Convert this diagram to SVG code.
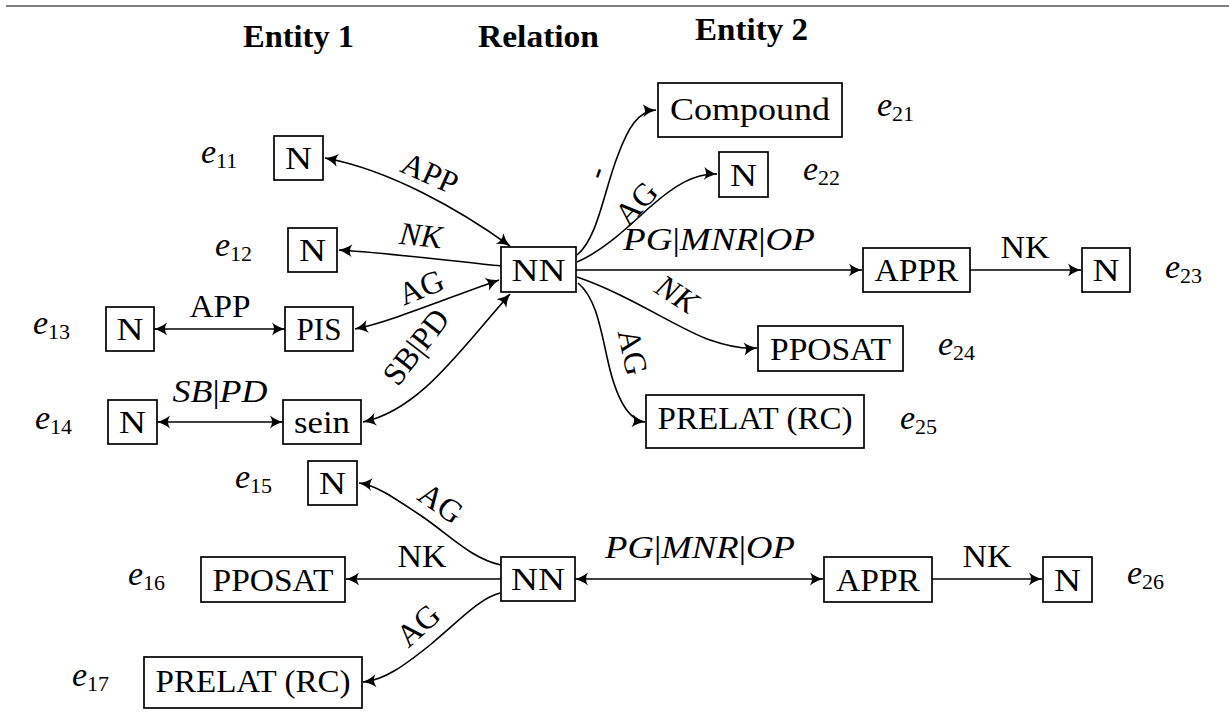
<svg xmlns="http://www.w3.org/2000/svg" width="1229" height="715" viewBox="0 0 1229 715">
<style>
.box{fill:#fff;stroke:#000;stroke-width:1.7}
.nt{font-family:"Liberation Serif",serif;font-size:32px;text-anchor:middle;fill:#000}
.lab{font-family:"Liberation Serif",serif;font-size:32px;text-anchor:middle;fill:#000}
.it{font-style:italic}
.hdr{font-family:"Liberation Serif",serif;font-size:31px;font-weight:bold;fill:#000}
.el{font-family:"Liberation Serif",serif;font-size:34px;font-style:italic;fill:#000}
.sub{font-size:22px;font-style:normal}
.edge{fill:none;stroke:#000;stroke-width:1.6}
.a1{marker-end:url(#ah)}
.a2{marker-start:url(#ah);marker-end:url(#ah)}
</style>
<defs>
<marker id="ah" markerUnits="userSpaceOnUse" markerWidth="15" markerHeight="14" viewBox="0 0 15 14" refX="13.5" refY="7" orient="auto-start-reverse">
<path d="M0.5,0.5 Q6.5,5.3 14,7 Q6.5,8.7 0.5,13.5 Q4.5,7 0.5,0.5 Z" fill="#000"/>
</marker>
</defs>
<rect width="1229" height="715" fill="#fff"/>
<line x1="6" y1="6" x2="1229" y2="6" stroke="#555" stroke-width="1.6"/>
<g id="headers">
<text class="hdr" x="243" y="47" textLength="111" lengthAdjust="spacingAndGlyphs">Entity 1</text>
<text class="hdr" x="478" y="47" textLength="121" lengthAdjust="spacingAndGlyphs">Relation</text>
<text class="hdr" x="695" y="40" textLength="113" lengthAdjust="spacingAndGlyphs">Entity 2</text>
</g>
<g id="connectors">
<path class="edge a2" d="M325,158 C390,170 460,210 510,246"/>
<path class="edge a1" d="M501,266 C460,262 400,254 339,250"/>
<path class="edge a2" d="M355,329 C390,322 450,297 499,280"/>
<path class="edge a2" d="M363,422 C420,410 460,350 510,294"/>
<path class="edge a2" d="M154,329 L285,329"/>
<path class="edge a2" d="M157,422 L283,422"/>
<path class="edge a1" d="M577,255 C598,238 604,190 618,155 C628,128 638,111 656,110"/>
<path class="edge a1" d="M577,262 C605,250 630,225 650,207 C675,185 695,173 717,174"/>
<path class="edge a1" d="M576,270 L862,270"/>
<path class="edge a1" d="M970,270 L1081,270"/>
<path class="edge a1" d="M577,277 C630,295 680,330 710,340 C730,347 745,349 757,348"/>
<path class="edge a1" d="M578,283 C595,297 600,325 607,357 C614,390 625,420 645,422"/>
<path class="edge a1" d="M501,565 C470,558 450,535 420,515 S375,485 359,483"/>
<path class="edge a1" d="M501,579 L346,579"/>
<path class="edge a1" d="M500,593 C480,598 460,620 430,645 C405,665 385,680 363,682"/>
<path class="edge a2" d="M575,579 L823,579"/>
<path class="edge a1" d="M932,579 L1042,579"/>
</g>
<g id="edge-labels">
<text class="lab" font-size="33" transform="translate(430,173) rotate(24)" y="11">APP</text>
<text class="lab it" font-size="33" transform="translate(421,235) rotate(6)" y="11">NK</text>
<text class="lab" font-size="33" transform="translate(421,287) rotate(-22)" y="11">AG</text>
<text class="lab" font-size="31" transform="translate(416,347) rotate(-52)" y="10.5">SB|PD</text>
<text class="lab it" x="220" y="402" textLength="95" lengthAdjust="spacingAndGlyphs">SB<tspan font-style="normal">|</tspan>PD</text>
<text class="lab" x="220" y="317" textLength="61" lengthAdjust="spacingAndGlyphs">APP</text>
<text class="lab" transform="translate(597,173) rotate(-70)" y="9" font-size="40">-</text>
<text class="lab" font-size="33" transform="translate(636,203) rotate(-47)" y="11">AG</text>
<text class="lab it" x="719" y="250" textLength="192" lengthAdjust="spacingAndGlyphs">PG<tspan font-style="normal">|</tspan>MNR<tspan font-style="normal">|</tspan>OP</text>
<text class="lab" x="1025" y="258" textLength="49" lengthAdjust="spacingAndGlyphs">NK</text>
<text class="lab it" font-size="33" transform="translate(677,294) rotate(33)" y="11">NK</text>
<text class="lab" font-size="33" transform="translate(633,352) rotate(78)" y="11">AG</text>
<text class="lab" font-size="33" transform="translate(441,503) rotate(35)" y="11">AG</text>
<text class="lab" x="422" y="567" textLength="49" lengthAdjust="spacingAndGlyphs">NK</text>
<text class="lab" font-size="33" transform="translate(418,625) rotate(-42)" y="11">AG</text>
<text class="lab it" x="700" y="558" textLength="190" lengthAdjust="spacingAndGlyphs">PG<tspan font-style="normal">|</tspan>MNR<tspan font-style="normal">|</tspan>OP</text>
<text class="lab" x="987" y="567" textLength="49" lengthAdjust="spacingAndGlyphs">NK</text>
</g>
<g id="e11"><rect class="box" x="274" y="136" width="49" height="44"/><text class="nt" x="298.5" y="169" textLength="27" lengthAdjust="spacingAndGlyphs">N</text><text class="el" x="201" y="163">e<tspan class="sub" dy="5">11</tspan></text></g>
<g id="e12"><rect class="box" x="288" y="228" width="49" height="44"/><text class="nt" x="312.5" y="261" textLength="27" lengthAdjust="spacingAndGlyphs">N</text><text class="el" x="215" y="256">e<tspan class="sub" dy="5">12</tspan></text></g>
<g id="e13"><rect class="box" x="106" y="307" width="48" height="44"/><text class="nt" x="130" y="340" textLength="27" lengthAdjust="spacingAndGlyphs">N</text><text class="el" x="33" y="334">e<tspan class="sub" dy="5">13</tspan></text></g>
<g id="pis"><rect class="box" x="285" y="307" width="68" height="44"/><text class="nt" x="319" y="340" textLength="45" lengthAdjust="spacingAndGlyphs">PIS</text></g>
<g id="e14"><rect class="box" x="108" y="400" width="49" height="44"/><text class="nt" x="132.5" y="433" textLength="27" lengthAdjust="spacingAndGlyphs">N</text><text class="el" x="35" y="429">e<tspan class="sub" dy="5">14</tspan></text></g>
<g id="sein"><rect class="box" x="283" y="400" width="78" height="44"/><text class="nt" x="322" y="433" textLength="56" lengthAdjust="spacingAndGlyphs">sein</text></g>
<g id="nn1"><rect class="box" x="501" y="247" width="75" height="45"/><text class="nt" x="538.5" y="280.5" textLength="54" lengthAdjust="spacingAndGlyphs">NN</text></g>
<g id="e21"><rect class="box" x="658" y="83" width="184" height="54"/><text class="nt" x="750" y="120" textLength="160" lengthAdjust="spacingAndGlyphs">Compound</text><text class="el" x="877" y="116">e<tspan class="sub" dy="5">21</tspan></text></g>
<g id="e22"><rect class="box" x="719" y="152" width="49" height="45"/><text class="nt" x="743.5" y="185.5" textLength="27" lengthAdjust="spacingAndGlyphs">N</text><text class="el" x="803" y="180">e<tspan class="sub" dy="5">22</tspan></text></g>
<g id="appr1"><rect class="box" x="863" y="248" width="107" height="44"/><text class="nt" x="916.5" y="281" textLength="84" lengthAdjust="spacingAndGlyphs">APPR</text></g>
<g id="e23"><rect class="box" x="1082" y="248" width="48" height="44"/><text class="nt" x="1106" y="281" textLength="27" lengthAdjust="spacingAndGlyphs">N</text><text class="el" x="1165" y="278">e<tspan class="sub" dy="5">23</tspan></text></g>
<g id="e24"><rect class="box" x="758" y="326" width="145" height="45"/><text class="nt" x="830.5" y="359.5" textLength="121" lengthAdjust="spacingAndGlyphs">PPOSAT</text><text class="el" x="938" y="355">e<tspan class="sub" dy="5">24</tspan></text></g>
<g id="e25"><rect class="box" x="646" y="395" width="218" height="53"/><text class="nt" x="755" y="429" textLength="195" lengthAdjust="spacingAndGlyphs">PRELAT (RC)</text><text class="el" x="900" y="429">e<tspan class="sub" dy="5">25</tspan></text></g>
<g id="e15"><rect class="box" x="308" y="461" width="49" height="44"/><text class="nt" x="332.5" y="494" textLength="27" lengthAdjust="spacingAndGlyphs">N</text><text class="el" x="235" y="488">e<tspan class="sub" dy="5">15</tspan></text></g>
<g id="e16"><rect class="box" x="201" y="557" width="144" height="45"/><text class="nt" x="273" y="590.5" textLength="121" lengthAdjust="spacingAndGlyphs">PPOSAT</text><text class="el" x="128" y="585">e<tspan class="sub" dy="5">16</tspan></text></g>
<g id="e17"><rect class="box" x="144" y="657" width="218" height="51"/><text class="nt" x="253" y="692" textLength="195" lengthAdjust="spacingAndGlyphs">PRELAT (RC)</text><text class="el" x="72" y="686">e<tspan class="sub" dy="5">17</tspan></text></g>
<g id="nn2"><rect class="box" x="501" y="557" width="74" height="44"/><text class="nt" x="538" y="590" textLength="54" lengthAdjust="spacingAndGlyphs">NN</text></g>
<g id="appr2"><rect class="box" x="824" y="557" width="108" height="45"/><text class="nt" x="878" y="590.5" textLength="84" lengthAdjust="spacingAndGlyphs">APPR</text></g>
<g id="e26"><rect class="box" x="1043" y="557" width="49" height="45"/><text class="nt" x="1067.5" y="590.5" textLength="27" lengthAdjust="spacingAndGlyphs">N</text><text class="el" x="1127" y="584">e<tspan class="sub" dy="5">26</tspan></text></g>
</svg>
